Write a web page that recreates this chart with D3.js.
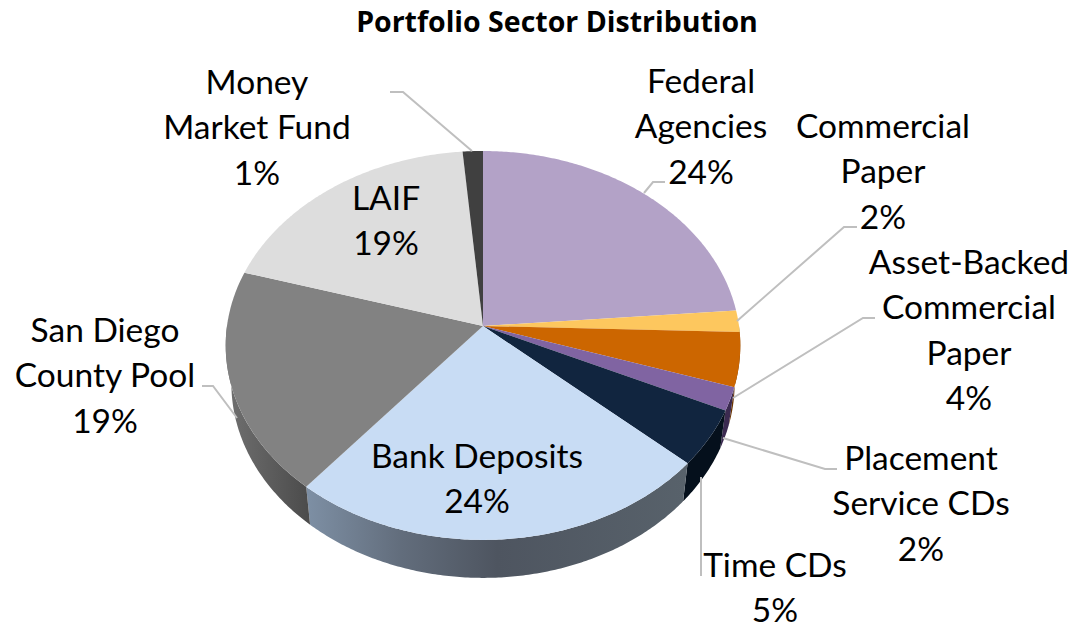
<!DOCTYPE html>
<html>
<head>
<meta charset="utf-8">
<style>
  html, body { margin: 0; padding: 0; background: #fff; }
  text { font-family: Lato, "Open Sans", sans-serif; fill: #000; font-variant-ligatures: none; }
</style>
<script src="https://cdn.jsdelivr.net/npm/d3@7"></script>
</head>
<body>
<div id="chart"></div>
<script>
var title = 'Portfolio Sector Distribution';

var sectors = ['Federal Agencies', 'Commercial Paper', 'Asset-Backed Commercial Paper',
  'Placement Service CDs', 'Time CDs', 'Bank Deposits', 'San Diego County Pool', 'LAIF', 'Money Market Fund'];
var shares = [23.7, 1.8, 4.49, 1.91, 4.7, 24.4, 18.6, 19.0, 1.4];
var topColors = ['#b3a2c7', '#fdc75e', '#cc6600', '#8064a2', '#11253f', '#c8dcf4', '#828282', '#dddddd', '#404040'];
var sideColors = ['#7a6a8c', '#a8843d', '#6b3500', '#3b2a50', '#05101c', 'url(#bankSide)', 'url(#poolSide)', '#999999', '#222222'];

var labelLines = [
  ['Federal', 'Agencies'],
  ['Commercial', 'Paper'],
  ['Asset-Backed', 'Commercial', 'Paper'],
  ['Placement', 'Service CDs'],
  ['Time CDs'],
  ['Bank Deposits'],
  ['San Diego', 'County Pool'],
  ['LAIF'],
  ['Money', 'Market Fund']
];
// centre x and first baseline of each label
var labelPos = [[701, 93], [883, 138], [969, 274], [921, 470], [775, 577], [477, 468], [105, 342], [386, 210], [257, 94]];
var leaders = [
  [[665, 182], [653, 182], [644, 193]],
  [[857, 227], [844, 227], [737, 321]],
  [[875, 318], [863, 318], [733, 398]],
  [[837, 469], [825, 469], [723, 438]],
  [[701, 576], [701, 477]],
  null,
  [[202, 386], [213, 386], [237, 418]],
  null,
  [[390, 92], [403, 92], [472, 151]]
];

var w = 1074,
    h = 626,
    apexX = 483,
    apexY = 326,
    depth = 38,
    persp = 0.1,
    lineGap = 45.3;

var svg = d3.select('#chart').append('svg')
  .attr('width', w).attr('height', h)
  .style('display', 'block');

var defs = svg.append('defs');

var addGradient = function (id, x1, x2, stops) {
  var g = defs.append('linearGradient')
    .attr('id', id)
    .attr('gradientUnits', 'userSpaceOnUse')
    .attr('x1', x1).attr('x2', x2).attr('y1', 0).attr('y2', 0);
  stops.forEach(function (s) {
    g.append('stop').attr('offset', s[0]).attr('stop-color', s[1]);
  });
};
addGradient('bankSide', 305, 690, [[0, '#7e90a5'], [0.25, '#626d7c'], [0.5, '#4e5560'], [1, '#58626b']]);
addGradient('poolSide', 226, 312, [[0, '#707070'], [1, '#4a4a4a']]);

// the disc is seen in perspective, so the apex is above the middle of the ellipse
var x = d3.scaleLinear().domain([-1, 1]).range([apexX - 256, apexX + 256]);
var y = d3.scaleLinear().domain([-1, 1]).range([apexY - 192.5, apexY + 192.5]);

var rim = function (t) {
  var u = Math.sin(t),
      v = -Math.cos(t),
      f = 1 - persp * v;
  return [x(u / f), y(v / f)];
};
var rimLow = function (t) {
  var p = rim(t);
  return [apexX + (p[0] - apexX) * 0.978, p[1] + depth];
};

var sample = function (a, b) {
  var n = Math.max(2, Math.ceil((b - a) / 0.01));
  return d3.range(n + 1).map(function (i) { return a + (b - a) * i / n; });
};

var line = d3.line();

var arcs = d3.pie().sort(null)(shares);

// side walls first, the top faces cover whatever sticks out behind them
svg.append('g').selectAll('path')
  .data(arcs.filter(function (d) { return d.endAngle > Math.PI / 2 && d.startAngle < 3 * Math.PI / 2; }))
  .enter()
  .append('path')
  .attr('d', function (d) {
    var a = Math.max(d.startAngle, Math.PI / 2),
        b = Math.min(d.endAngle, 3 * Math.PI / 2),
        ts = sample(a, b);
    return line(ts.map(rim).concat(ts.slice().reverse().map(rimLow))) + 'Z';
  })
  .attr('fill', function (d) { return sideColors[d.index]; });

svg.append('g').selectAll('path')
  .data(arcs)
  .enter()
  .append('path')
  .attr('d', function (d) {
    return line([[apexX, apexY]].concat(sample(d.startAngle, d.endAngle).map(rim))) + 'Z';
  })
  .attr('fill', function (d) { return topColors[d.index]; });

svg.append('g').selectAll('path')
  .data(leaders.filter(function (d) { return d; }))
  .enter()
  .append('path')
  .attr('d', line)
  .attr('fill', 'none')
  .attr('stroke', '#bfbfbf')
  .attr('stroke-width', 2);

svg.append('text')
  .attr('x', 557).attr('y', 32)
  .attr('text-anchor', 'middle')
  .style('font-family', '"Open Sans", sans-serif')
  .style('font-size', '28.5px')
  .style('font-weight', 700)
  .text(title);

var labels = svg.append('g').selectAll('text')
  .data(arcs)
  .enter()
  .append('text')
  .attr('text-anchor', 'middle')
  .style('font-size', '33.5px');

labels.each(function (d) {
  var i = d.index,
      rows = labelLines[i].concat([Math.round(d.value) + '%']);
  d3.select(this).selectAll('tspan')
    .data(rows)
    .enter()
    .append('tspan')
    .attr('x', labelPos[i][0])
    .attr('y', function (r, j) { return labelPos[i][1] + j * lineGap; })
    .text(function (r) { return r; });
});
</script>
</body>
</html>
